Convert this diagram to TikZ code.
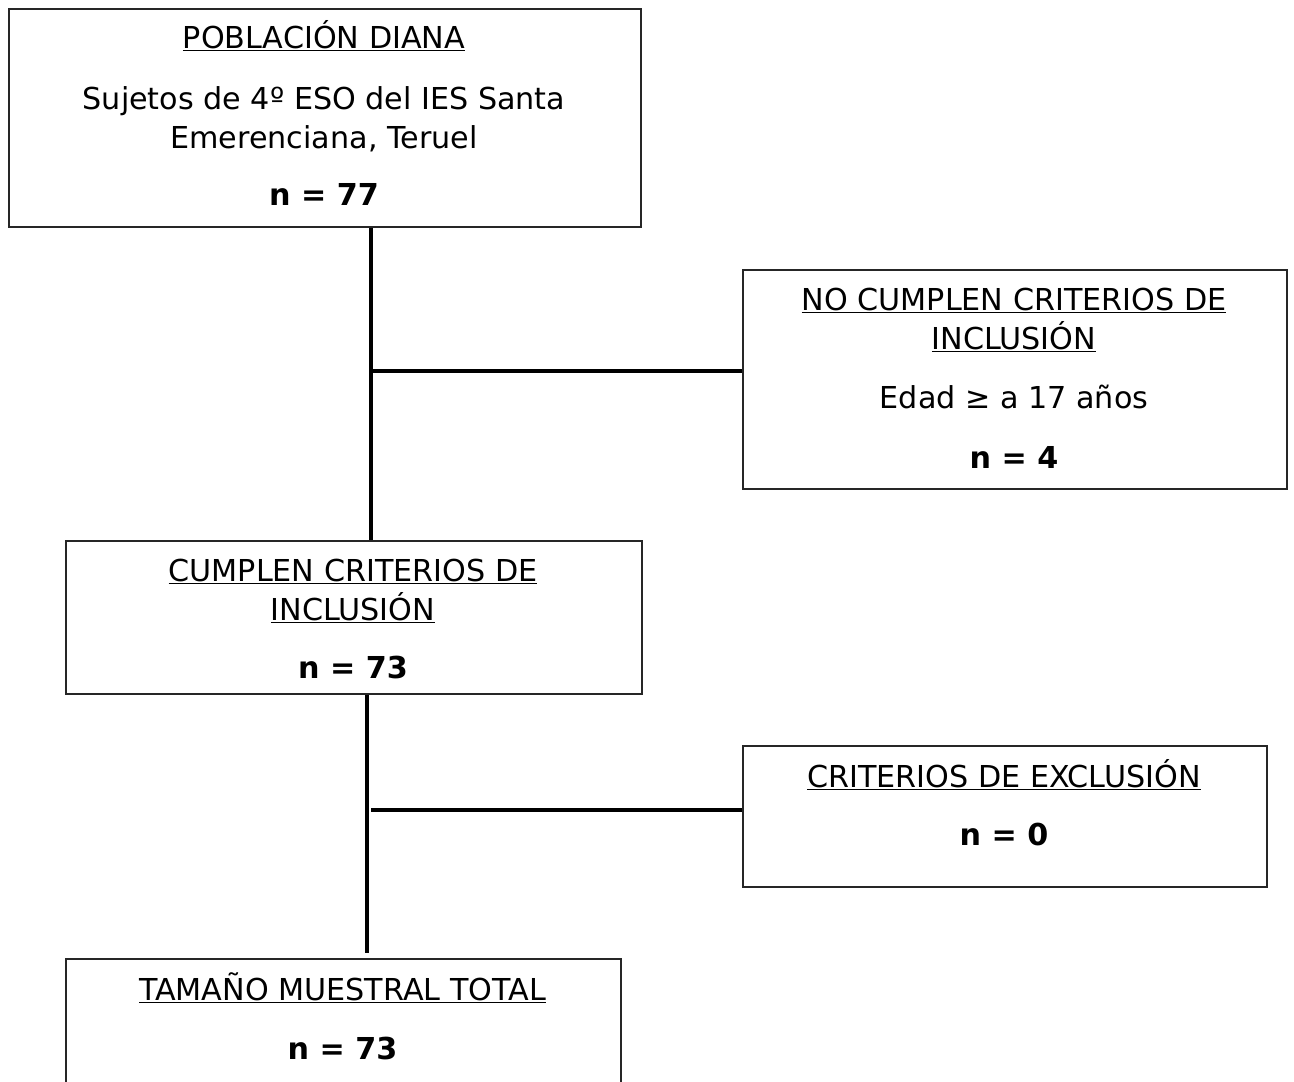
\documentclass[tikz,border=0pt]{standalone}
\usepackage{fontspec}
\setmainfont{DejaVu Sans}
\newcommand{\ulx}[1]{\underline{#1}}
\tikzset{
  boxx/.style={draw=black!85, line width=1.5pt, inner sep=0pt, anchor=north west},
  txt/.style={anchor=base, inner sep=0pt, font=\fontsize{30.2}{36}\selectfont},
  link/.style={line width=3.8pt, black}
}
\begin{document}
\begin{tikzpicture}[x=1pt,y=-1pt]
\useasboundingbox (0,0) rectangle (1294,1082);
\clip (0,0) rectangle (1294,1082);
% boxes
\node[boxx, minimum width=632pt, minimum height=218pt] (b1) at (8,8) {};
\node[boxx, minimum width=544pt, minimum height=219pt] (b2) at (742,269) {};
\node[boxx, minimum width=576pt, minimum height=153pt] (b3) at (65,540) {};
\node[boxx, minimum width=524pt, minimum height=141pt] (b4) at (742,745) {};
\node[boxx, minimum width=555pt, minimum height=160pt] (b5) at (65,958) {};
% texts box 1
\node[txt] (t11) at (324,48) {\ulx{POBLACIÓN DIANA}};
\node[txt] (t12) at (324,109) {Sujetos de 4º ESO del IES Santa};
\node[txt] (t13) at (324,148) {Emerenciana, Teruel};
\node[txt] (t14) at (324,205) {\bfseries n = 77};
% box 2
\node[txt] (t21) at (1014,310) {\ulx{NO CUMPLEN CRITERIOS DE}};
\node[txt] (t22) at (1014,349) {\ulx{INCLUSIÓN}};
\node[txt] (t23) at (1014,408) {Edad ≥ a 17 años};
\node[txt] (t24) at (1014,468) {\bfseries n = 4};
% box 3
\node[txt] (t31) at (353,581) {\ulx{CUMPLEN CRITERIOS DE}};
\node[txt] (t32) at (353,620) {\ulx{INCLUSIÓN}};
\node[txt] (t33) at (353,678) {\bfseries n = 73};
% box 4
\node[txt] (t41) at (1004,787) {\ulx{CRITERIOS DE EXCLUSIÓN}};
\node[txt] (t42) at (1004,845) {\bfseries n = 0};
% box 5
\node[txt] (t51) at (342.5,1000) {\ulx{TAMAÑO MUESTRAL TOTAL}};
\node[txt] (t52) at (342.5,1059) {\bfseries n = 73};
% connectors
\coordinate (j1) at (371,371);
\coordinate (j2) at (371,810);
\coordinate (e5) at (367,953);
\draw[link] (b1.south -| j1) -- (b3.north -| j1);
\draw[link] (j1) -- (b2.west |- j1);
\draw[link] (b3.south -| e5) -- (e5);
\draw[link] (j2) -- (b4.west |- j2);
\end{tikzpicture}
\end{document}
